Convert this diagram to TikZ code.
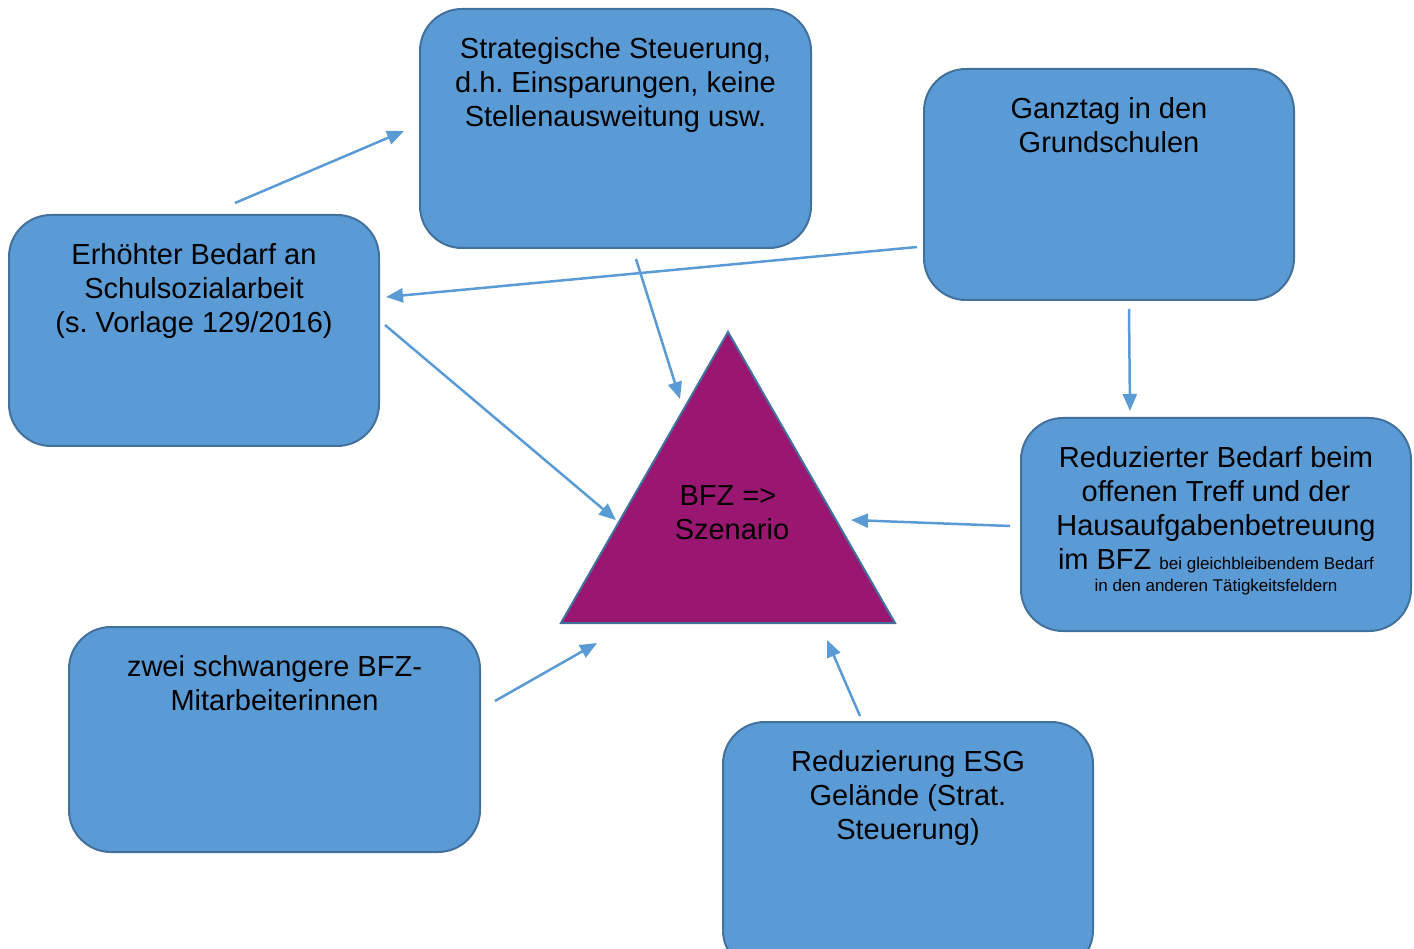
\documentclass[tikz,border=0pt]{standalone}
\usepackage{fontspec}
\setmainfont{Liberation Sans}
\usetikzlibrary{arrows.meta}
\frenchspacing
\definecolor{boxblue}{HTML}{5B9BD5}
\definecolor{boxline}{HTML}{41719C}
\definecolor{trifill}{HTML}{991770}
\definecolor{arrowblue}{HTML}{5B9BD5}
\newcommand{\bigf}{\fontsize{29}{34}\selectfont}
\newcommand{\smallf}{\fontsize{17}{22}\selectfont}
\tikzset{
  box/.style={draw=boxline, fill=boxblue, line width=2pt, rounded corners=42pt, inner sep=0pt},
  boxtext/.style={anchor=north, yshift=-29pt, inner sep=0pt, align=center, font=\bigf\frenchspacing},
  conn/.style={draw=arrowblue, line width=2.5pt, -{Triangle[length=17pt,width=14pt]}},
  tri/.style={draw=boxline, fill=trifill, line width=2pt, line join=miter}
}
\begin{document}
\begin{tikzpicture}[x=1pt,y=-1pt]
\useasboundingbox (0,0) rectangle (1414,949);
\clip (0,0) rectangle (1414,949);
% boxes
\node[box, minimum width=391pt, minimum height=239pt,
  label={[boxtext]north:Strategische Steuerung,\\d.h. Einsparungen, keine\\Stellenausweitung usw.}]
  (strat) at (615.5,128.5) {};
\node[box, minimum width=370pt, minimum height=231pt,
  label={[boxtext]north:Ganztag in den\\Grundschulen}]
  (gan) at (1109,184.5) {};
\node[box, minimum width=370pt, minimum height=231pt,
  label={[boxtext]north:Erhöhter Bedarf an\\Schulsozialarbeit\\(s. Vorlage 129/2016)}]
  (erh) at (194,330.5) {};
\node[box, minimum width=390pt, minimum height=213pt,
  label={[boxtext]north:Reduzierter Bedarf beim\\offenen Treff und der\\Hausaufgabenbetreuung\\im BFZ {\smallf bei gleichbleibendem Bedarf}\\[-12pt]{\smallf in den anderen Tätigkeitsfeldern}}]
  (red) at (1216,524.5) {};
\node[box, minimum width=411pt, minimum height=225pt,
  label={[boxtext]north:zwei schwangere BFZ-\\Mitarbeiterinnen}]
  (zwei) at (274.5,739.5) {};
\node[box, minimum width=370pt, minimum height=250pt,
  label={[boxtext]north:Reduzierung ESG\\Gelände (Strat.\\Steuerung)}]
  (esg) at (908,847) {};
% triangle
\coordinate (tA) at (728,332);
\coordinate (tB) at (561,623);
\coordinate (tC) at (895,623);
\draw[tri] (tA) -- (tB) -- (tC) -- cycle;
\node[inner sep=0pt, align=center, font=\bigf] (bfz) at (728,513) {BFZ =>\\\hspace*{8pt}Szenario};
% connector end points
\coordinate (a1s) at (235,203);  \coordinate (a1e) at (404,131);
\coordinate (a2s) at (917,247);  \coordinate (a2e) at (386,297);
\coordinate (a3s) at (636,259);  \coordinate (a3e) at (680,399);
\coordinate (a4s) at (385,325);  \coordinate (a4e) at (616,520);
\coordinate (a5s) at (1129,309); \coordinate (a5e) at (1130,411);
\coordinate (a6s) at (1010,526); \coordinate (a6e) at (851,520);
\coordinate (a7s) at (495,701);  \coordinate (a7e) at (597,643);
\coordinate (a8s) at (860,716);  \coordinate (a8e) at (827,640);
\draw[conn] (a1s) -- (a1e);
\draw[conn] (a2s) -- (a2e);
\draw[conn] (a3s) -- (a3e);
\draw[conn] (a4s) -- (a4e);
\draw[conn] (a5s) -- (a5e);
\draw[conn] (a6s) -- (a6e);
\draw[conn] (a7s) -- (a7e);
\draw[conn] (a8s) -- (a8e);
\end{tikzpicture}
\end{document}
